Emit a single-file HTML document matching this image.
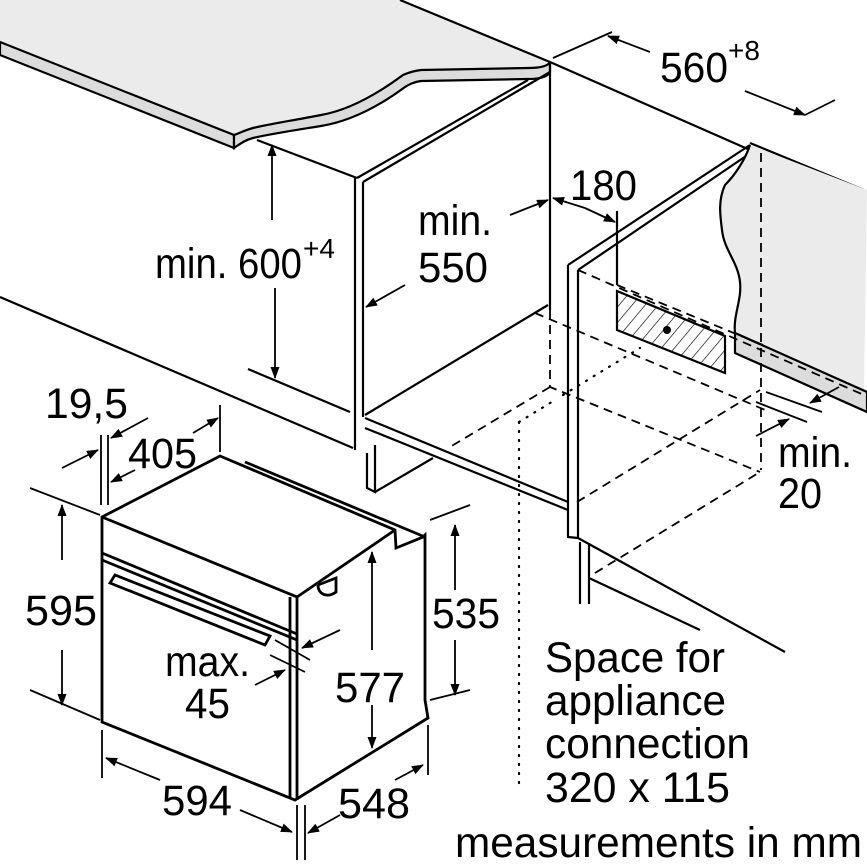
<!DOCTYPE html>
<html><head><meta charset="utf-8"><style>
html,body{margin:0;padding:0;background:#fff}
svg{display:block}
text{font-family:"Liberation Sans",sans-serif;fill:#000}
</style></head><body>
<svg width="867" height="867" viewBox="0 0 867 867" xmlns="http://www.w3.org/2000/svg">
<defs>
<marker id="a" markerWidth="12" markerHeight="9" refX="11" refY="4.5" orient="auto" markerUnits="userSpaceOnUse"><path d="M0,0 L12,4.5 L0,9 z" fill="#000"/></marker>
<pattern id="h" width="10" height="10" patternUnits="userSpaceOnUse" patternTransform="rotate(40)"><line x1="0" y1="0" x2="0" y2="10" stroke="#000" stroke-width="1.3"/></pattern>
</defs>
<g fill="none" stroke="#000" stroke-width="2.2">
<!-- worktop -->
<path d="M0,0 L400,0 L550,62 C548,66 540,68 528,68 L421,70 C412,71 408,73 403,75 C380,92 350,110 321,115 C290,121 270,124 253,128 C245,130 240,133 234,135 L0,42 Z" fill="#ebebeb" stroke="none"/>
<path d="M0,42 L234,135 L234,148 L0,55 Z" fill="#dcdcdc"/>
<path d="M234,135 C240,133 245,130 253,128 C270,124 290,121 321,115 C350,110 380,92 403,75 C408,73 412,71 421,70 L528,68 C540,68 548,66 550,62 L550,72 C548,77 540,79 528,79 L421,81 C414,82 410,84 405,87 C382,104 352,121 321,126 C290,131 270,134 253,138 C245,140 240,144 234,148 Z" fill="#dcdcdc"/>
<line x1="400" y1="0" x2="550" y2="62"/>
<!-- left niche panel -->
<line x1="257" y1="140" x2="357" y2="178"/>
<path d="M357,178 L528,80 M363,182 L550,72"/>
<path d="M355,178 L355,450 M363,182 L363,417"/>
<line x1="550" y1="62" x2="550" y2="310"/>
<!-- shelf -->
<path d="M365,415 L548,305 M535,313 L548,305"/>
<path d="M365,418 L568,502 M365,428 L568,510"/>
<path d="M367,453 L367,488 L375,492 L375,445 M375,492 L433,458"/>
<!-- floor lines -->
<line x1="0" y1="297" x2="353" y2="448"/>
<line x1="248" y1="369" x2="350" y2="412"/>
<!-- wall top -->
<line x1="550" y1="62" x2="750" y2="150"/>
<line x1="750" y1="143" x2="864" y2="190"/>
<!-- right panel -->
<path d="M568,265 L750,145 M578,270 L752,152"/>
<path d="M568,265 L568,537 L578,538 M578,270 L578,538"/>
<path d="M580,542 L580,604 M589,543 L589,604"/>
<path d="M578,538 L785,652"/>
<path d="M589,578 L700,630"/>
<!-- grey right wall -->
<path d="M750,145 C745,160 735,175 725,185 C718,200 720,215 722,230 C724,250 738,262 740,282 C742,300 733,315 735,333 L864,390 L867,190 Z" fill="#ebebeb" stroke="none"/>
<path d="M750,145 C745,160 735,175 725,185 C718,200 720,215 722,230 C724,250 738,262 740,282 C742,300 733,315 735,333"/>
<path d="M735,333 L735,353 L867,412 L867,392 Z" fill="#dcdcdc"/>
<!-- hatched box -->
<path d="M617,291 L725,336 L725,373 L617,330 Z" fill="url(#h)"/>
<line x1="617" y1="211" x2="617" y2="285"/>
</g>
<circle cx="667" cy="330" r="4" fill="#000"/>
<!-- dashed -->
<g fill="none" stroke="#000" stroke-width="1.8" stroke-dasharray="9,6">
<path d="M578,270 L864,395"/>
<path d="M617,285 L763,345"/>
<path d="M535,313 L770,412"/>
<path d="M550,310 L550,387 L760,472"/>
<path d="M550,387 L450,447"/>
<path d="M577,502 L760,390"/>
<path d="M595,573 L760,472"/>
<path d="M761,153 L761,470"/>
</g>
<g fill="none" stroke="#000" stroke-width="2.2" stroke-dasharray="1,8" stroke-linecap="round">
<path d="M519,422 L519,790 M519,422 L555,400 M563,395 L640,348"/>
</g>
<!-- oven -->
<g fill="none" stroke="#000" stroke-width="2.8">
<path d="M102,517 L220,456 L395,530 L396,548 L423,537 L425,535 L425,700 L428,718 L295,800 L102,722 Z"/>
<path d="M245,462 L425,537"/>
<path d="M102,517 L297,597 L297,800"/>
<path d="M297,597 L395,530"/>
<path d="M290,597 L290,797"/>
<path d="M102,553 L297,634"/>
<path d="M102,560 L297,640"/>
<path d="M110,583 L265,645 L270,636 L115,575 Z"/>
<path d="M318,585 C318,595 328,598 336,592 L336,578 L318,585"/>
</g>
<!-- dimension lines -->
<g fill="none" stroke="#000" stroke-width="1.8">
<path d="M30,488 L100,515 M30,690 L100,720"/>
<line x1="62" y1="560" x2="62" y2="505" marker-end="url(#a)"/>
<line x1="62" y1="650" x2="62" y2="705" marker-end="url(#a)"/>
<path d="M102,730 L102,778 M297,805 L297,860 M305,805 L305,860 M428,725 L428,775"/>
<line x1="160" y1="780" x2="106" y2="758" marker-end="url(#a)"/>
<line x1="240" y1="810" x2="292" y2="832" marker-end="url(#a)"/>
<line x1="340" y1="815" x2="308" y2="833" marker-end="url(#a)"/>
<line x1="395" y1="780" x2="423" y2="765" marker-end="url(#a)"/>
<path d="M430,520 L470,505 M430,700 L470,690"/>
<line x1="455" y1="590" x2="455" y2="525" marker-end="url(#a)"/>
<line x1="455" y1="640" x2="455" y2="695" marker-end="url(#a)"/>
<line x1="372" y1="650" x2="372" y2="552" marker-end="url(#a)"/>
<line x1="372" y1="705" x2="372" y2="748" marker-end="url(#a)"/>
<path d="M275,640 L310,660 M270,655 L305,672"/>
<line x1="340" y1="630" x2="302" y2="648" marker-end="url(#a)"/>
<line x1="255" y1="685" x2="285" y2="670" marker-end="url(#a)"/>
<path d="M101,435 L101,505 M108,435 L108,505 M220,405 L220,452"/>
<line x1="62" y1="468" x2="98" y2="450" marker-end="url(#a)"/>
<line x1="148" y1="418" x2="111" y2="438" marker-end="url(#a)"/>
<line x1="135" y1="470" x2="111" y2="482" marker-end="url(#a)"/>
<line x1="193" y1="433" x2="218" y2="418" marker-end="url(#a)"/>
<line x1="272" y1="220" x2="272" y2="145" marker-end="url(#a)"/>
<line x1="275" y1="288" x2="275" y2="378" marker-end="url(#a)"/>
<line x1="510" y1="215" x2="548" y2="200" marker-end="url(#a)"/>
<line x1="405" y1="285" x2="366" y2="307" marker-end="url(#a)"/>
<line x1="585" y1="208" x2="553" y2="198" marker-end="url(#a)"/>
<line x1="585" y1="208" x2="615" y2="222" marker-end="url(#a)"/>
<path d="M553,58 L612,32 M805,115 L835,100"/>
<line x1="650" y1="52" x2="608" y2="36" marker-end="url(#a)"/>
<line x1="745" y1="91" x2="805" y2="115" marker-end="url(#a)"/>
<path d="M766,392 L822,412 M756,402 L807,422"/>
<line x1="839" y1="387" x2="810" y2="403" marker-end="url(#a)"/>
<line x1="756" y1="436" x2="789" y2="419" marker-end="url(#a)"/>
</g>
<!-- labels -->
<g font-size="43">
<text x="25" y="625" textLength="72" lengthAdjust="spacingAndGlyphs">595</text>
<text x="162" y="815" textLength="70" lengthAdjust="spacingAndGlyphs">594</text>
<text x="338" y="818" textLength="72" lengthAdjust="spacingAndGlyphs">548</text>
<text x="432" y="628" textLength="68" lengthAdjust="spacingAndGlyphs">535</text>
<text x="335" y="702" textLength="70" lengthAdjust="spacingAndGlyphs">577</text>
<text x="165" y="676" textLength="85" lengthAdjust="spacingAndGlyphs">max.</text>
<text x="185" y="718" textLength="45" lengthAdjust="spacingAndGlyphs">45</text>
<text x="128" y="468" textLength="69" lengthAdjust="spacingAndGlyphs">405</text>
<text x="45" y="418" textLength="83" lengthAdjust="spacingAndGlyphs">19,5</text>
<text x="155" y="278" textLength="147" lengthAdjust="spacingAndGlyphs">min. 600</text>
<text x="303" y="258" font-size="28">+4</text>
<text x="418" y="235" textLength="74" lengthAdjust="spacingAndGlyphs">min.</text>
<text x="418" y="282" textLength="70" lengthAdjust="spacingAndGlyphs">550</text>
<text x="570" y="200" textLength="67" lengthAdjust="spacingAndGlyphs">180</text>
<text x="660" y="82" textLength="68" lengthAdjust="spacingAndGlyphs">560</text>
<text x="728" y="60" font-size="28">+8</text>
<text x="778" y="467" textLength="74" lengthAdjust="spacingAndGlyphs">min.</text>
<text x="778" y="508" textLength="44" lengthAdjust="spacingAndGlyphs">20</text>
<text x="545" y="672" textLength="180" lengthAdjust="spacingAndGlyphs">Space for</text>
<text x="545" y="715" textLength="181" lengthAdjust="spacingAndGlyphs">appliance</text>
<text x="545" y="758" textLength="205" lengthAdjust="spacingAndGlyphs">connection</text>
<text x="545" y="802" textLength="185" lengthAdjust="spacingAndGlyphs">320 x 115</text>
<text x="455" y="857" textLength="407" lengthAdjust="spacingAndGlyphs">measurements in mm</text>
</g>
</svg>
</body></html>
